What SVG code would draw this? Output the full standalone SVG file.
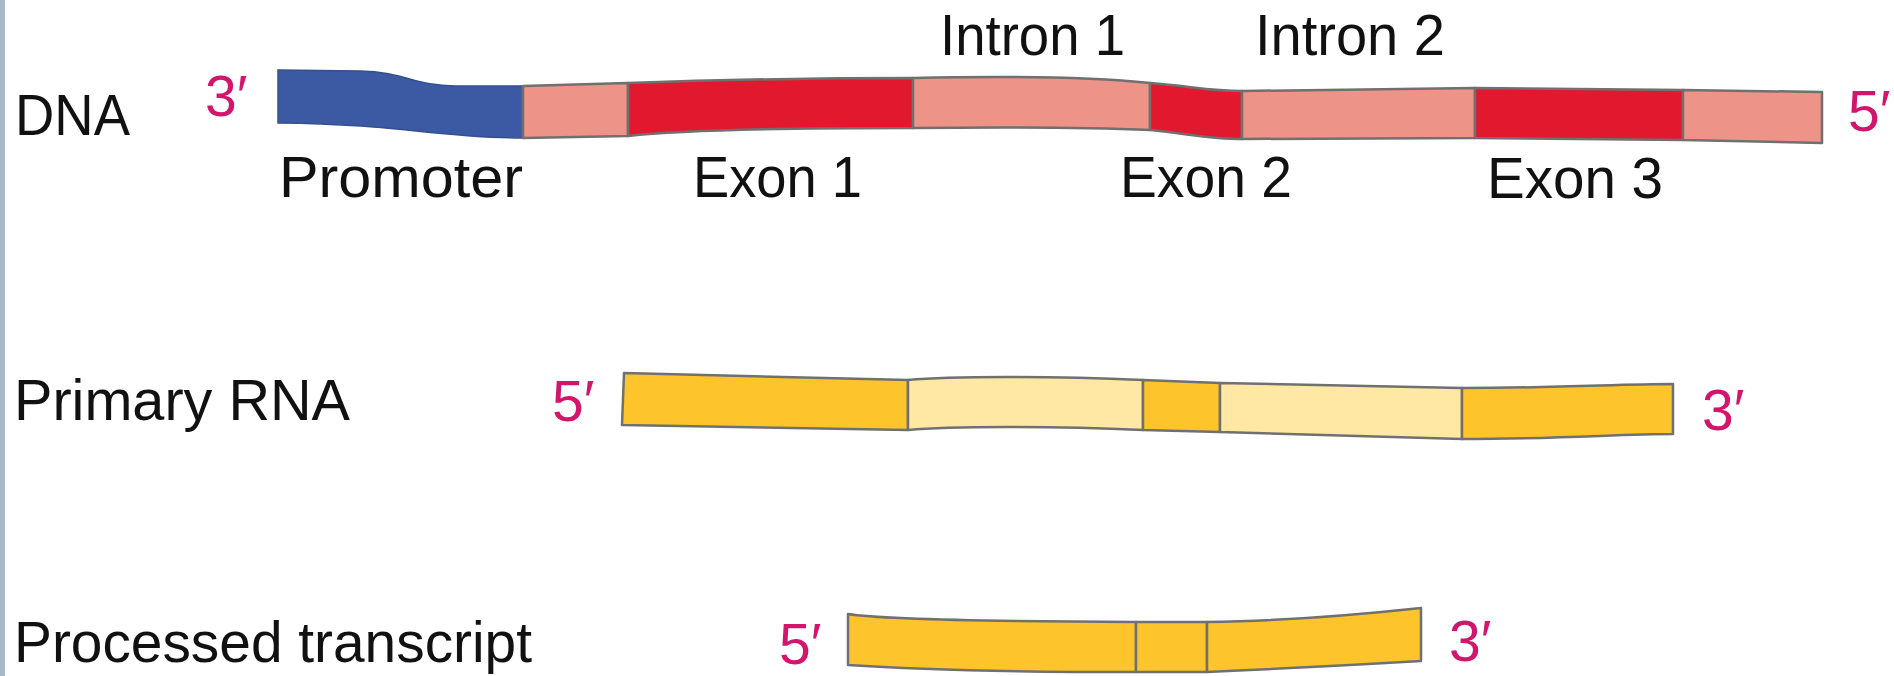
<svg xmlns="http://www.w3.org/2000/svg" width="1894" height="676" viewBox="0 0 1894 676">
  <style>
    .lbl { font-family: "Liberation Sans", Arial, sans-serif; font-size: 57px; fill: #111111; }
    .end { font-family: "Liberation Sans", Arial, sans-serif; font-size: 57px; fill: #d2166c; }
    .seg { stroke: #707070; stroke-width: 2.5; stroke-linejoin: round; }
    .blue { fill: #3c5aa4; stroke: #34508f; stroke-width: 1.5; }
    .sal { fill: #ed9387; }
    .red { fill: #e2192e; }
    .dy { fill: #fdc52b; }
    .ly { fill: #fee8a4; }
  </style>
  <rect x="0" y="0" width="1894" height="676" fill="#ffffff"/>
  <rect x="0" y="0" width="5" height="676" fill="#a7bac6"/>

  <g id="dna">
    <text class="lbl" x="15" y="135" textLength="115" lengthAdjust="spacingAndGlyphs">DNA</text>
    <text class="end" x="205" y="116">3′</text>
    <text class="end" x="1848" y="131">5′</text>
    <g id="dna-promoter">
      <path class="blue" d="M278,70 L360,71 C405,72 415,86 455,86 L523,86 L523,138 C440,138 400,124 278,123 Z"/>
      <text class="lbl" x="279" y="197" textLength="244" lengthAdjust="spacingAndGlyphs">Promoter</text>
    </g>
    <path id="dna-leader" class="seg sal" d="M523,86 L628,83 L628,136 L523,138 Z"/>
    <g id="dna-exon1">
      <path class="seg red" d="M628,83 Q770,78 913,78 L913,128 Q700,128 628,136 Z"/>
      <text class="lbl" x="693" y="197" textLength="169" lengthAdjust="spacingAndGlyphs">Exon 1</text>
    </g>
    <g id="dna-intron1">
      <path class="seg sal" d="M913,78 C1000,76 1080,76 1150,83 L1150,130 C1080,127 1000,127 913,128 Z"/>
      <text class="lbl" x="940" y="55" textLength="185" lengthAdjust="spacingAndGlyphs">Intron 1</text>
    </g>
    <g id="dna-exon2">
      <path class="seg red" d="M1150,83 C1190,86 1210,91 1242,91 L1242,139 C1210,139 1190,134 1150,130 Z"/>
      <text class="lbl" x="1120" y="197" textLength="172" lengthAdjust="spacingAndGlyphs">Exon 2</text>
    </g>
    <g id="dna-intron2">
      <path class="seg sal" d="M1242,91 C1350,90 1420,89 1475,88 L1475,138 L1242,139 Z"/>
      <text class="lbl" x="1255" y="55" textLength="190" lengthAdjust="spacingAndGlyphs">Intron 2</text>
    </g>
    <g id="dna-exon3">
      <path class="seg red" d="M1475,88 L1683,90 L1683,140 L1475,138 Z"/>
      <text class="lbl" x="1487" y="198" textLength="176" lengthAdjust="spacingAndGlyphs">Exon 3</text>
    </g>
    <path id="dna-trailer" class="seg sal" d="M1683,90 L1822,92 L1822,143 L1683,140 Z"/>
  </g>

  <g id="primary-rna">
    <text class="lbl" x="14" y="420" textLength="336" lengthAdjust="spacingAndGlyphs">Primary RNA</text>
    <text class="end" x="552" y="421">5′</text>
    <text class="end" x="1702" y="430">3′</text>
    <path id="rna-exon1" class="seg dy" d="M624,373 L908,380 L908,430 L622,425 Z"/>
    <path id="rna-intron1" class="seg ly" d="M908,380 C950,376 1050,376 1143,380 L1143,430 C1050,426 950,426 908,430 Z"/>
    <path id="rna-exon2" class="seg dy" d="M1143,380 L1220,383 L1220,432 L1143,430 Z"/>
    <path id="rna-intron2" class="seg ly" d="M1220,383 L1462,388 L1462,439 L1220,432 Z"/>
    <path id="rna-exon3" class="seg dy" d="M1462,388 C1560,388 1620,384 1673,384 L1673,434 C1620,434 1560,439 1462,439 Z"/>
  </g>

  <g id="processed-transcript">
    <text class="lbl" x="14" y="662" textLength="518" lengthAdjust="spacingAndGlyphs">Processed transcript</text>
    <text class="end" x="779" y="664">5′</text>
    <text class="end" x="1449" y="661">3′</text>
    <path id="pt-exon1" class="seg dy" d="M848,614 Q890,621 1136,622 L1136,672 Q950,672 848,665 Z"/>
    <path id="pt-exon2" class="seg dy" d="M1136,622 L1207,622 L1207,672 L1136,672 Z"/>
    <path id="pt-exon3" class="seg dy" d="M1207,622 Q1300,621 1421,608 L1421,661 Q1300,668 1207,672 Z"/>
  </g>

  <g id="connectors"/>
</svg>
